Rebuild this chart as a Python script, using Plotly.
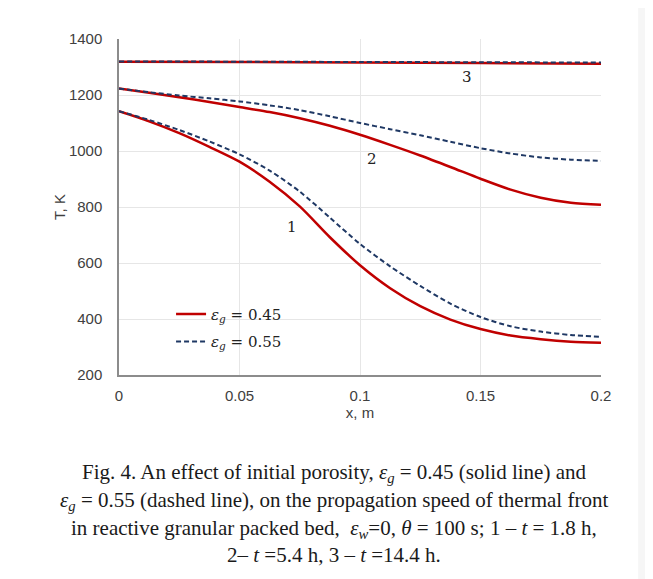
import plotly.graph_objects as go

# x positions (m)
x_vals = [0, 0.0125, 0.025, 0.0375, 0.05, 0.0625, 0.075, 0.0875, 0.1,
          0.1125, 0.125, 0.1375, 0.15, 0.1625, 0.175, 0.1875, 0.2]

# Curve 1 (t = 1.8 h)
t1_045 = [1142, 1106, 1064, 1015, 962, 890, 802, 692, 592,
          510, 446, 398, 364, 341, 328, 319, 315]
t1_055 = [1142, 1111, 1075, 1034, 988, 930, 855, 762, 668,
          588, 518, 455, 407, 374, 355, 343, 336]
# Curve 2 (t = 5.4 h)
t2_045 = [1223, 1208, 1192, 1175, 1157, 1139, 1117, 1090, 1058,
          1022, 984, 943, 901, 862, 833, 815, 808]
t2_055 = [1223, 1210, 1198, 1188, 1177, 1163, 1146, 1124, 1100,
          1078, 1056, 1033, 1010, 991, 977, 969, 965]
# Curve 3 (t = 14.4 h)
x3_vals = [0, 0.05, 0.1, 0.15, 0.2]
t3_045 = [1319, 1318, 1316, 1314, 1312]
t3_055 = [1320, 1319, 1318, 1317, 1316]

curve_labels = ["1", "2", "3"]
label_x = [0.0718, 0.105, 0.1444]
label_y = [730, 971, 1264]

x_ticks = [0, 0.05, 0.1, 0.15, 0.2]
x_tick_text = ["0", "0.05", "0.1", "0.15", "0.2"]
y_ticks = [200, 400, 600, 800, 1000, 1200, 1400]

RED = "#C00000"
NAVY = "#1F3864"

fig = go.Figure()

solid = dict(color=RED, width=2.5, shape="spline", smoothing=0.8)
dashed = dict(color=NAVY, width=2, dash="5px,3px", shape="spline", smoothing=0.8)

fig.add_trace(go.Scatter(x=x_vals, y=t1_045, mode="lines", line=solid,
                         name="<i>ε<sub>g</sub></i> = 0.45", legendgroup="a"))
fig.add_trace(go.Scatter(x=x_vals, y=t1_055, mode="lines", line=dashed,
                         name="<i>ε<sub>g</sub></i> = 0.55", legendgroup="b"))
fig.add_trace(go.Scatter(x=x_vals, y=t2_045, mode="lines", line=solid,
                         showlegend=False, legendgroup="a"))
fig.add_trace(go.Scatter(x=x_vals, y=t2_055, mode="lines", line=dashed,
                         showlegend=False, legendgroup="b"))
fig.add_trace(go.Scatter(x=x3_vals, y=t3_045, mode="lines", line=solid,
                         showlegend=False, legendgroup="a"))
fig.add_trace(go.Scatter(x=x3_vals, y=t3_055, mode="lines", line=dashed,
                         showlegend=False, legendgroup="b"))

for lab, lx, ly in zip(curve_labels, label_x, label_y):
    fig.add_annotation(x=lx, y=ly, text=lab, showarrow=False,
                       font=dict(family="DejaVu Serif", size=15, color="#222"))

# Card background (plot area left=119, width=482, bottom=375, height=335.7 on the page)
fig.add_shape(type="rect", xref="paper", yref="paper",
              x0=-0.24, x1=1.077, y0=-0.72, y1=1.096,
              fillcolor="white", line=dict(width=0), layer="below")

caption_lines = [
    "Fig. 4. An effect of initial porosity, <i>ε<sub>g</sub></i> = 0.45 (solid line) and",
    "<i>ε<sub>g</sub></i> = 0.55 (dashed line), on the propagation speed of thermal front",
    "in reactive granular packed bed,  <i>ε<sub>w</sub></i>=0, <i>θ</i> = 100 s; 1 – <i>t</i> = 1.8 h,",
    "2– <i>t</i> =5.4 h, 3 – <i>t</i> =14.4 h.",
]
cap_y = [473, 501, 529, 555]
for line, cy in zip(caption_lines, cap_y):
    fig.add_annotation(xref="paper", yref="paper",
                       x=(334 - 119) / 482, y=(375 - cy) / 335.7,
                       text=line, showarrow=False, xanchor="center", yanchor="middle",
                       font=dict(family="Liberation Serif", size=21, color="#1a1a1a"))

fig.update_layout(
    width=645, height=571,
    margin=dict(l=111, r=52, t=31, b=204),
    paper_bgcolor="#F6F6F6",
    plot_bgcolor="white",
    showlegend=True,
    legend=dict(x=0.108, y=0.23, xanchor="left", yanchor="top",
                bgcolor="rgba(255,255,255,0)",
                font=dict(family="DejaVu Serif", size=15, color="#222"),
                tracegroupgap=5, traceorder="grouped"),
    font=dict(family="Liberation Sans", size=15, color="#404040"),
)
fig.update_xaxes(range=[0, 0.2], tickvals=x_ticks, ticktext=x_tick_text,
                 showgrid=True, gridcolor="#E6E6E6", gridwidth=1,
                 showline=True, linecolor="#8C8C8C", linewidth=1.5,
                 zeroline=False, ticks="", ticklabelstandoff=6,
                 title=dict(text="x, m", standoff=5,
                            font=dict(family="Liberation Sans", size=15, color="#404040")))
fig.update_yaxes(range=[200, 1400], tickvals=y_ticks,
                 showgrid=True, gridcolor="#E6E6E6", gridwidth=1,
                 showline=True, linecolor="#8C8C8C", linewidth=1.5,
                 zeroline=False, ticks="", ticklabelstandoff=12,
                 title=dict(text="T, K", standoff=0,
                            font=dict(family="Liberation Sans", size=15, color="#404040")))

fig.write_html("out.html")
